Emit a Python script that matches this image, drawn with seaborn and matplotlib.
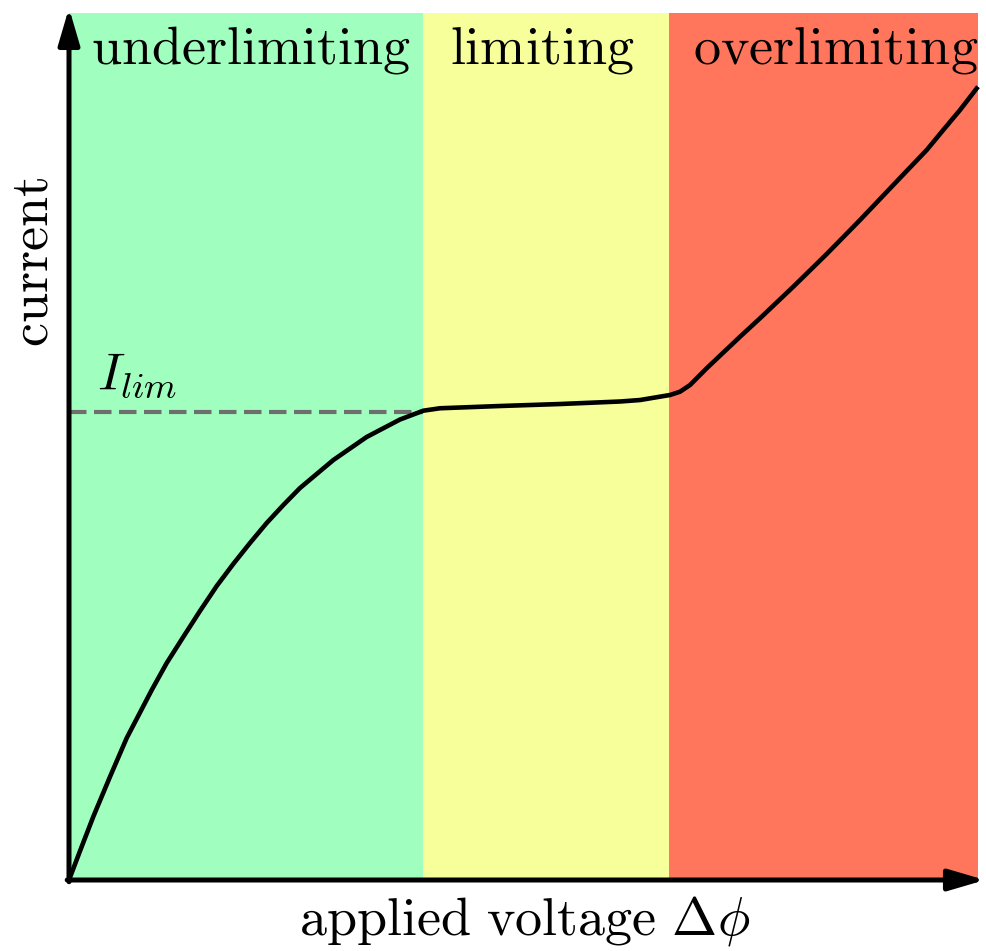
import matplotlib
matplotlib.use("Agg")
import matplotlib.pyplot as plt
import seaborn as sns
import pandas as pd

# ---- data (arbitrary units) ----
voltage = [0.0, 0.121, 0.267, 0.451, 0.635, 0.910, 1.075, 1.257, 1.441,
           1.625, 1.807, 1.991, 2.175, 2.358, 2.541, 2.908,
           3.275, 3.641, 3.898, 4.081, 4.741, 5.402, 6.062, 6.282, 6.612,
           6.722, 6.832, 7.015, 7.382, 7.602, 7.968, 8.335, 8.702, 9.068,
           9.436, 9.618, 9.802, 10.0]
current = [0.0, 0.334, 0.730, 1.191, 1.638, 2.191, 2.503, 2.803, 3.103,
           3.391, 3.645, 3.887, 4.118, 4.325, 4.521, 4.844,
           5.110, 5.311, 5.413, 5.441, 5.467, 5.490, 5.519, 5.536, 5.594,
           5.632, 5.709, 5.902, 6.266, 6.479, 6.843, 7.220, 7.612, 8.016,
           8.420, 8.651, 8.881, 9.150]
I_LIM = 5.40
region_edges = [0.0, 3.894, 6.601, 10.0]
region_names = ["underlimiting", "limiting", "overlimiting"]
region_label_x = [2.002, 5.204, 8.438]
region_colors = ["#A0FFBE", "#F7FF9B", "#FF765D"]

sns.set_theme(style="white")
plt.rcParams["mathtext.fontset"] = "cm"
plt.rcParams["font.family"] = ["DejaVu Serif", "DejaVu Sans"]
plt.rcParams["text.color"] = "black"

fig = plt.figure(figsize=(9.87, 9.51), dpi=100)
ax = fig.add_axes([69 / 987, 71 / 951, 909 / 987, 867 / 951])
ax.set_xlim(0, 10)
ax.set_ylim(0, 10)
ax.set_axis_off()

for i in range(3):
    ax.axvspan(region_edges[i], region_edges[i + 1], color=region_colors[i], lw=0, zorder=0)
    ax.text(region_label_x[i], 9.42, r"$\mathrm{" + region_names[i] + "}$",
            ha="center", va="baseline", fontsize=39, color="black", zorder=3)

# dashed limiting-current line
ax.plot([region_edges[0], region_edges[1]], [I_LIM, I_LIM], color="#6E6E6E",
        lw=3.0, dashes=(4.2, 1.8), zorder=2)
ax.text(0.31, 5.65, r"$I_{lim}$", ha="left", va="baseline", fontsize=38,
        color="black", zorder=3)

df = pd.DataFrame({"voltage": voltage, "current": current})
sns.lineplot(data=df, x="voltage", y="current", ax=ax, color="black", lw=3.3,
             sort=False, zorder=4)
for ln in ax.get_lines()[1:]:
    ln.set_clip_on(False)
    ln.set_solid_capstyle("butt")
    ln.set_solid_joinstyle("round")

# axes arrows
arrow_kw = dict(arrowstyle="-|>,head_length=1.7,head_width=0.5", lw=3.6,
                color="black", mutation_scale=13, shrinkA=0, shrinkB=0)
ax.annotate("", xy=(0, 1.0058), xytext=(0, -0.002), xycoords="axes fraction",
            arrowprops=arrow_kw, annotation_clip=False, zorder=5)
ax.annotate("", xy=(1.0077, 0), xytext=(-0.002, 0), xycoords="axes fraction",
            arrowprops=arrow_kw, annotation_clip=False, zorder=5)

fig.text(525 / 987, 1 - 921 / 951, r"$\mathrm{applied\ voltage\ }\Delta\phi$",
         ha="center", va="center", fontsize=39, color="black")
fig.text(32 / 987, 1 - 262 / 951, r"$\mathrm{current}$", rotation=90,
         ha="center", va="center", fontsize=39, color="black")

fig.savefig("out.png", dpi=100)
